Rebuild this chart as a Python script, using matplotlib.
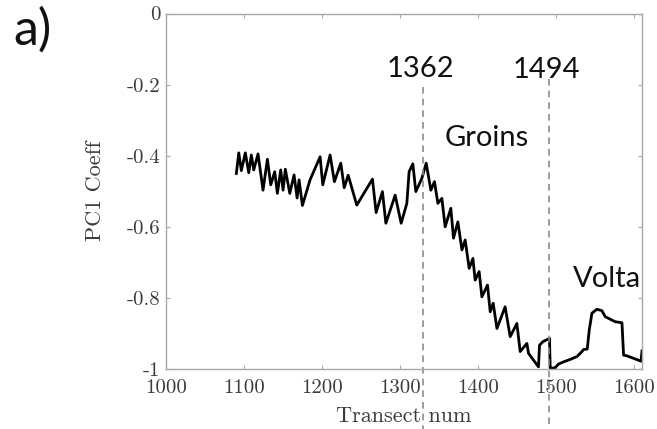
import numpy as np
import matplotlib
matplotlib.use("Agg")
import matplotlib.pyplot as plt

# PC1 coefficient along transects
transect = [1090.2, 1093.3, 1096.6, 1101.7, 1106.1, 1109.4, 1112.5, 1118.0, 1124.4, 1130.0,
            1134.3, 1139.4, 1142.8, 1147.1, 1150.1, 1153.0, 1158.7, 1164.2, 1168.1, 1170.6,
            1174.9, 1184.7, 1197.6, 1201.0, 1210.4, 1215.9, 1224.1, 1228.5, 1233.6, 1244.6,
            1264.7, 1269.4, 1277.5, 1281.9, 1293.8, 1301.5, 1308.8, 1311.7, 1316.5, 1320.3,
            1328.0, 1333.6, 1339.6, 1344.2, 1348.6, 1353.7, 1357.9, 1365.2, 1368.6, 1374.2,
            1379.4, 1383.6, 1388.7, 1393.5, 1396.4, 1401.5, 1405.0, 1412.2, 1415.7, 1419.5,
            1424.3, 1434.8, 1441.3, 1449.9, 1454.1, 1462.7, 1464.8, 1477.6, 1478.9, 1483.3,
            1491.7, 1492.6, 1494.8, 1499.0, 1503.3, 1509.7, 1518.3, 1526.9, 1533.3, 1535.4,
            1540.1, 1542.7, 1546.1, 1552.5, 1558.9, 1563.2, 1569.6, 1576.0, 1584.6, 1586.7,
            1591.0, 1599.5, 1609.0, 1610.3]
pc1 = [-0.450, -0.392, -0.442, -0.392, -0.448, -0.398, -0.440, -0.395, -0.497, -0.410,
       -0.482, -0.445, -0.506, -0.440, -0.497, -0.438, -0.506, -0.454, -0.519, -0.468,
       -0.540, -0.468, -0.403, -0.482, -0.398, -0.473, -0.421, -0.490, -0.455, -0.539,
       -0.466, -0.560, -0.501, -0.590, -0.511, -0.590, -0.534, -0.445, -0.423, -0.501,
       -0.464, -0.421, -0.497, -0.473, -0.534, -0.520, -0.600, -0.548, -0.632, -0.586,
       -0.665, -0.637, -0.717, -0.689, -0.750, -0.726, -0.797, -0.764, -0.839, -0.815,
       -0.886, -0.825, -0.909, -0.872, -0.951, -0.928, -0.956, -0.994, -0.933, -0.923,
       -0.914, -0.997, -0.998, -0.996, -0.986, -0.980, -0.973, -0.965, -0.951, -0.945,
       -0.944, -0.890, -0.843, -0.832, -0.836, -0.853, -0.860, -0.867, -0.870, -0.961,
       -0.963, -0.970, -0.978, -0.949]

marks = [1329.3, 1491.3]
mark_labels = ["1362", "1494"]

plt.rcParams['font.family'] = 'serif'
plt.rcParams['font.serif'] = ['cmr10']
plt.rcParams['axes.unicode_minus'] = False
plt.rcParams['mathtext.fontset'] = 'cm'

W, H = 657, 429
fig = plt.figure(figsize=(6.57, 4.29), dpi=100)
ax = fig.add_axes([166/W, 1-369/H, 476/W, 355.5/H])

ax.plot(transect, pc1, color='black', lw=2.0, solid_joinstyle='round')
ax.set_xlim(1000, transect[-1])
ax.set_ylim(-1, 0)

xt = [1000, 1100, 1200, 1300, 1400, 1500, 1600]
yt = [-1, -0.8, -0.6, -0.4, -0.2, 0]
ax.set_xticks(xt)
ax.set_xticklabels([str(v) for v in xt])
ax.set_yticks(yt)
ax.set_yticklabels(['%g' % v for v in yt])

gray = '#a8a8a8'
txt = '#3c3c3c'
for s in ax.spines.values():
    s.set_color(gray)
    s.set_linewidth(1.0)
ax.tick_params(direction='in', length=3, width=0.8, color=gray, labelcolor=txt,
               labelsize=15, top=True, right=True)
ax.tick_params(axis='x', pad=7)
ax.tick_params(axis='y', pad=4)

ax.set_xlabel('Transect num', fontsize=16, color=txt)
ax.set_ylabel('PC1 Coeff', fontsize=16, color=txt)
ax.xaxis.set_label_coords(0.5, -0.105)
ax.yaxis.set_label_coords(-0.128, 0.5)

# dashed markers running past the axes
tops = [87, 79]
for xm, top in zip(marks, tops):
    ax.plot([xm, xm], [(369-top)/355.5, (369-429)/355.5], ls=(0, (4, 3)),
            color='#8c8c8c', lw=1.2, transform=ax.get_xaxis_transform(), clip_on=False)

sans = 'Lato'
fig.text(420/W, 1-77/H, mark_labels[0], ha='center', va='baseline', fontsize=21, family=sans, color='#111111')
fig.text(546/W, 1-78/H, mark_labels[1], ha='center', va='baseline', fontsize=21, family=sans, color='#111111')
fig.text(445/W, 1-146/H, 'Groins', ha='left', va='baseline', fontsize=21, family=sans, color='#111111')
fig.text(573/W, 1-287/H, 'Volta', ha='left', va='baseline', fontsize=21, family=sans, color='#111111')
fig.text(13/W, 1-45/H, 'a)', ha='left', va='baseline', fontsize=36, family=sans, color='#111111')

fig.savefig('out.png', dpi=100)
